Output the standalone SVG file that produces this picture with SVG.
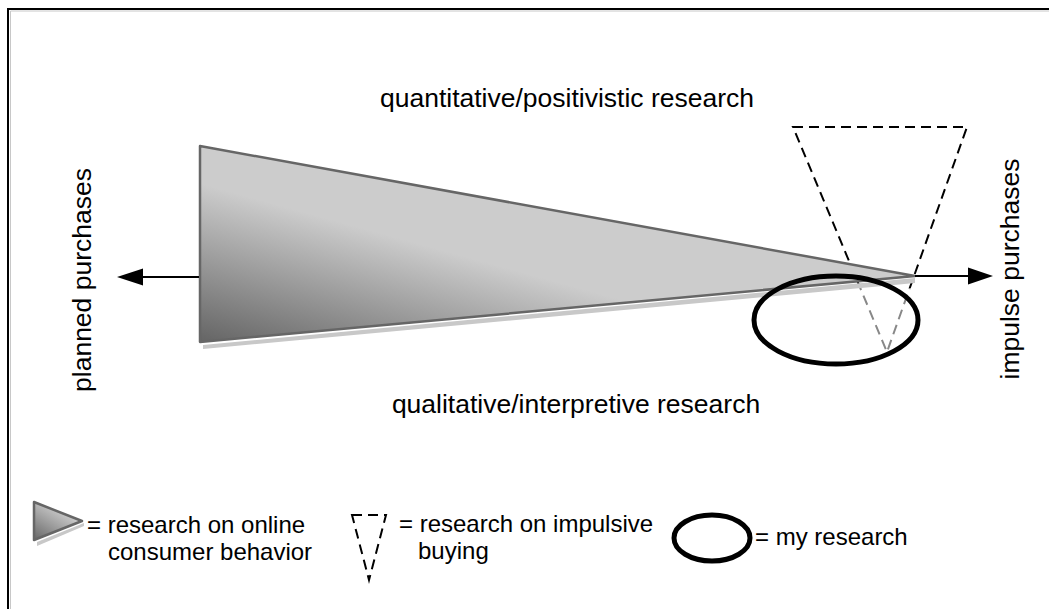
<svg xmlns="http://www.w3.org/2000/svg" width="1049" height="609" viewBox="0 0 1049 609">
  <defs>
    <linearGradient id="wedgeFill" gradientUnits="userSpaceOnUse" x1="220" y1="345" x2="260" y2="200">
      <stop offset="0" stop-color="#666666"/>
      <stop offset="1" stop-color="#cccccc"/>
    </linearGradient>
    <linearGradient id="wedgeFillSmall" x1="0" y1="1" x2="0.6" y2="0.2">
      <stop offset="0" stop-color="#666666"/>
      <stop offset="1" stop-color="#cccccc"/>
    </linearGradient>
    <clipPath id="aboveWedge"><rect x="0" y="0" width="1049" height="288"/></clipPath>
    <clipPath id="belowWedge"><rect x="0" y="288" width="1049" height="321"/></clipPath>
    <style>
      .label { font-family: "Liberation Sans", Arial, sans-serif; font-size: 26.5px; fill: #000; }
      .legend { font-family: "Liberation Sans", Arial, sans-serif; font-size: 24px; fill: #000; }
      .dashed { fill: none; stroke-width: 2; stroke-dasharray: 10 6; }
      .conn { stroke: #000; stroke-width: 2; fill: none; }
      .wedge { stroke: #666; stroke-width: 2.5; stroke-linejoin: round; }
      .shadow { fill: #c8c8c8; }
      .ring { fill: none; stroke: #000; stroke-width: 5; }
    </style>
  </defs>

  <rect width="1049" height="609" fill="#fff"/>

  <!-- frame -->
  <rect x="8" y="9" width="1100" height="700" fill="none" stroke="#000" stroke-width="2"/>
  <path d="M10.5 1049 V11 H1049" fill="none" stroke="#c8c8c8" stroke-width="1"/>

  <!-- impulsive buying research (dashed triangle) -->
  <g id="impulsive-buying">
    <polygon class="dashed" points="793,127 967,127 887,352" stroke="#000" clip-path="url(#aboveWedge)"/>
    <polygon class="dashed" points="793,127 967,127 887,352" stroke="#888" clip-path="url(#belowWedge)"/>
  </g>

  <!-- online consumer behavior research (wedge) -->
  <g id="online-consumer-behavior">
    <polygon class="shadow" points="203,345 915,278 915,283 203,349"/>
    <polygon class="wedge" points="200,146 915,276 200,342" fill="url(#wedgeFill)"/>
  </g>

  <!-- my research (ellipse) -->
  <g id="my-research">
    <ellipse class="ring" cx="836" cy="320" rx="82" ry="44"/>
  </g>

  <!-- axis arrows -->
  <g id="connectors">
    <line class="conn" x1="199" y1="277" x2="140" y2="277"/>
    <polygon points="117,277 143,268.5 143,285.5" fill="#000"/>
    <line class="conn" x1="915" y1="276" x2="970" y2="276"/>
    <polygon points="993,276 968,267.5 968,284.5" fill="#000"/>
  </g>

  <!-- axis labels -->
  <g id="label-quantitative">
    <text class="label" x="567" y="107" text-anchor="middle">quantitative/positivistic research</text>
  </g>
  <g id="label-qualitative">
    <text class="label" x="576" y="413" text-anchor="middle">qualitative/interpretive research</text>
  </g>
  <g id="label-planned">
    <text class="label" transform="translate(91 280) rotate(-90)" text-anchor="middle">planned purchases</text>
  </g>
  <g id="label-impulse">
    <text class="label" transform="translate(1019 269) rotate(-90)" text-anchor="middle">impulse purchases</text>
  </g>

  <!-- legend -->
  <g id="legend-wedge">
    <polygon class="shadow" points="37,542 84,523 84,526 37,546"/>
    <polygon class="wedge" points="34,502 82,521 34,540" fill="url(#wedgeFillSmall)" stroke-width="1.5"/>
    <text class="legend" x="87" y="533">= research on online</text>
    <text class="legend" x="108" y="560">consumer behavior</text>
  </g>
  <g id="legend-dashed">
    <polygon class="dashed" points="352,515 386,515 369,580" stroke="#000"/>
    <text class="legend" x="399" y="532">= research on impulsive</text>
    <text class="legend" x="418" y="559">buying</text>
  </g>
  <g id="legend-ellipse">
    <ellipse class="ring" cx="712" cy="538" rx="38" ry="23"/>
    <text class="legend" x="755" y="545">= my research</text>
  </g>
</svg>
